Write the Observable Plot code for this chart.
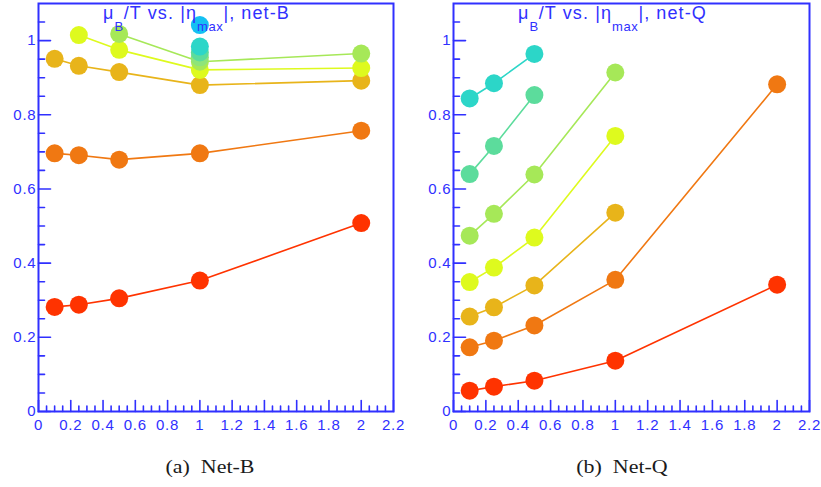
<!DOCTYPE html>
<html>
<head>
<meta charset="utf-8">
<script src="https://cdn.jsdelivr.net/npm/d3@7"></script>
<script src="https://cdn.jsdelivr.net/npm/@observablehq/plot@0.6"></script>
<style>
  html, body { margin: 0; padding: 0; background: #fff; }
  #wrap { position: relative; width: 821px; height: 487px; overflow: hidden; background: #fff; }
  .panel { position: absolute; top: 0; width: 411px; }
  .title { position: absolute; top: 4px; font-family: "Liberation Sans", Arial, sans-serif; font-size: 18px; line-height: 18px; letter-spacing: 1.1px; color: #3030ff; white-space: nowrap; }
  .title .sub { font-size: 13px; position: relative; top: 12px; letter-spacing: 0.6px; }
  .caption { position: absolute; top: 457px; font-family: "Liberation Serif", "DejaVu Serif", serif; font-size: 18px; line-height: 20px; color: #1a1a1a; white-space: nowrap; transform: translateX(-50%); }
  .caption span { display: inline-block; transform: scaleX(1.22); transform-origin: center; }
</style>
</head>
<body>
<div id="wrap">
  <div class="panel" id="left" style="left:0px"></div>
  <div class="panel" id="right" style="left:410px"></div>
  <div class="title" style="left:103px">μ<span class="sub">B</span>/T vs. |η<span class="sub">max</span>|, net-B</div>
  <div class="title" style="left:518px">μ<span class="sub">B</span>/T vs. |η<span class="sub">max</span>|, net-Q</div>
  <div class="caption" style="left:210px"><span>(a)&nbsp;&nbsp;Net-B</span></div>
  <div class="caption" style="left:622px"><span>(b)&nbsp;&nbsp;Net-Q</span></div>
</div>
<script>
// ---- data ----
const etaMax = [0.1, 0.25, 0.5, 1, 2];

// net-B panel series (μB/T values at each |η_max|; null = no point)
const netB_red       = [0.282, 0.288, 0.305, 0.353, 0.508];
const netB_orange    = [0.696, 0.691, 0.679, 0.696, 0.757];
const netB_gold      = [0.951, 0.932, 0.915, 0.880, 0.892];
const netB_yellow    = [null, 1.015, 0.975, 0.921, 0.926];
const netB_lime      = [null, null, 1.018, 0.943, 0.965];
const netB_green     = [null, null, null, 0.955, null];
const netB_greenteal = [null, null, null, 0.968, null];
const netB_teal      = [null, null, null, 0.984, null];
const netB_cyan      = [null, null, null, 1.042, null];

// net-Q panel series
const netQ_red       = [0.056, 0.067, 0.083, 0.137, 0.342];
const netQ_orange    = [0.173, 0.191, 0.232, 0.355, 0.882];
const netQ_gold      = [0.256, 0.281, 0.340, 0.536, null];
const netQ_yellow    = [0.349, 0.388, 0.469, 0.743, null];
const netQ_lime      = [0.474, 0.533, 0.639, 0.914, null];
const netQ_greenteal = [0.640, 0.716, 0.853, null, null];
const netQ_teal      = [0.844, 0.885, 0.964, null, null];

// tick values / labels
const yMajor = [0, 0.2, 0.4, 0.6, 0.8, 1];
const yMinor = [0.05, 0.1, 0.15, 0.25, 0.3, 0.35, 0.45, 0.5, 0.55, 0.65, 0.7, 0.75, 0.85, 0.9, 0.95, 1.05];
const xMajor = [0, 0.2, 0.4, 0.6, 0.8, 1, 1.2, 1.4, 1.6, 1.8, 2, 2.2];
const xMinor = [0.05, 0.1, 0.15, 0.25, 0.3, 0.35, 0.45, 0.5, 0.55, 0.65, 0.7, 0.75, 0.85, 0.9, 0.95,
                1.05, 1.1, 1.15, 1.25, 1.3, 1.35, 1.45, 1.5, 1.55, 1.65, 1.7, 1.75, 1.85, 1.9, 1.95, 2.05, 2.1, 2.15];

// ---- styles ----
const palette = {
  red: "#ff3300", orange: "#f07812", gold: "#e8b41a", yellow: "#defa1e",
  lime: "#a6e858", green: "#8ee47a", greenteal: "#5cdc9c", teal: "#2cd6c8", cyan: "#14c0f2"
};
const axisBlue = "#3030ff";

const seriesB = [
  ["red", netB_red], ["orange", netB_orange], ["gold", netB_gold], ["yellow", netB_yellow],
  ["lime", netB_lime], ["green", netB_green], ["greenteal", netB_greenteal], ["teal", netB_teal], ["cyan", netB_cyan]
];
const seriesQ = [
  ["red", netQ_red], ["orange", netQ_orange], ["gold", netQ_gold], ["yellow", netQ_yellow],
  ["lime", netQ_lime], ["greenteal", netQ_greenteal], ["teal", netQ_teal]
];

function rowsOf(series) {
  const rows = [];
  series.forEach(([name, vals]) => vals.forEach((v, i) => {
    if (v != null) rows.push({eta: etaMax[i], mu: v, key: name, color: palette[name]});
  }));
  return rows;
}

const fmt = d3.format("~g");

function panel(series, marginLeft, marginRight, width) {
  const rows = rowsOf(series);
  const height = 441, marginTop = 3, marginBottom = 30;
  const xDomain = [0, 2.2], yDomain = [0, 1.1];
  const plotW = width - marginLeft - marginRight;
  const plotH = height - marginTop - marginBottom;
  // tick lengths in pixels converted to data units
  const px = (xDomain[1] - xDomain[0]) / plotW;
  const py = (yDomain[1] - yDomain[0]) / plotH;
  // each tick as a two-point polyline (id groups the pair)
  const tickPts = [];
  const add = (id, a, b) => { tickPts.push({id, tx: a[0], ty: a[1]}, {id, tx: b[0], ty: b[1]}); };
  yMinor.forEach((v, i) => add("ym" + i, [0, v], [6 * px, v]));
  yMajor.forEach((v, i) => add("yM" + i, [0, v], [12 * px, v]));
  xMinor.forEach((v, i) => add("xm" + i, [v, 0], [v, 5.5 * py]));
  xMajor.forEach((v, i) => add("xM" + i, [v, 0], [v, 11 * py]));
  return Plot.plot({
    width, height,
    marginLeft, marginRight, marginTop, marginBottom,
    x: {domain: xDomain},
    y: {domain: yDomain},
    style: {fontFamily: "Liberation Sans, Arial, sans-serif", fontSize: "15px", color: axisBlue, background: "white"},
    marks: [
      Plot.line(rows, {x: "eta", y: "mu", z: "key", stroke: d => d.color, strokeWidth: 1.6}),
      Plot.dot(rows, {x: "eta", y: "mu", fill: d => d.color, r: 9}),
      Plot.frame({stroke: axisBlue, strokeWidth: 2}),
      Plot.line(tickPts, {x: "tx", y: "ty", z: "id", stroke: axisBlue, strokeWidth: 1.6}),
      Plot.axisY(yMajor, {tickSize: 0, tickPadding: 2, label: null, fill: axisBlue, tickFormat: fmt}),
      Plot.axisX(xMajor, {tickSize: 0, tickPadding: 8, label: null, fill: axisBlue, tickFormat: fmt})
    ]
  });
}

document.getElementById("left").appendChild(panel(seriesB, 38, 17, 410));
document.getElementById("right").appendChild(panel(seriesQ, 43, 12, 411));
d3.selectAll("svg text").style("letter-spacing", "0.8px");
</script>
</body>
</html>
